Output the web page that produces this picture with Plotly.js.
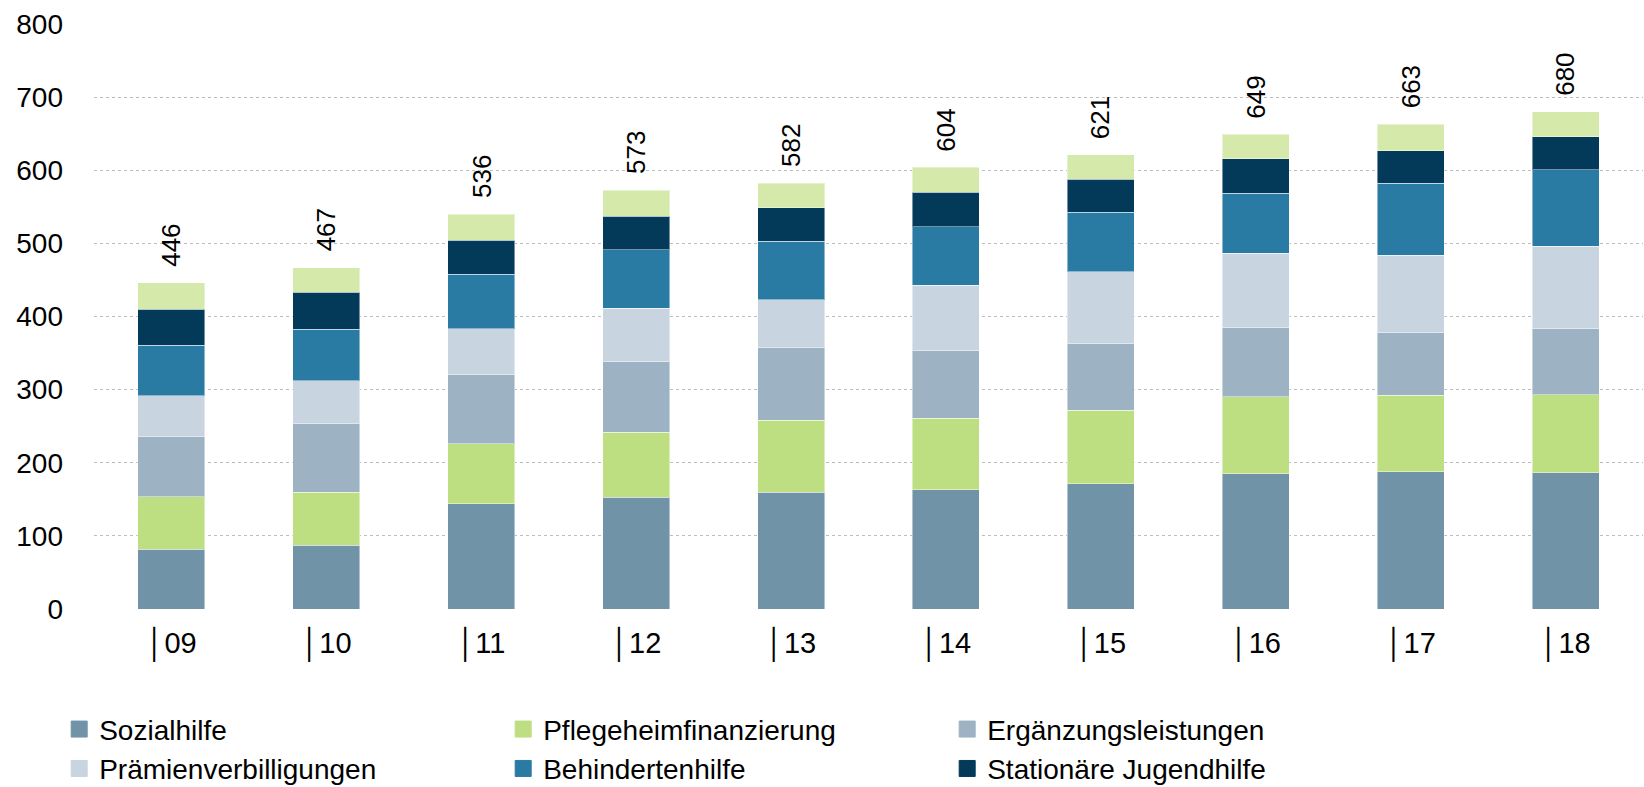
<!DOCTYPE html>
<html><head><meta charset="utf-8">
<script src="https://cdn.plot.ly/plotly-3.0.1.min.js"></script>
<style>html,body{margin:0;padding:0;background:#fff}#chart{width:1644px;height:787px}</style>
</head><body><div id="chart"></div>
<script>
const years = ['09','10','11','12','13','14','15','16','17','18'];
const tickLabels = ['│09','│10','│11','│12','│13','│14','│15','│16','│17','│18'];
const sozialhilfe = [82,87.5,144,153,160,163,171,185,188,186];
const pflegeheim = [71.5,72,82,89,98,98,100.5,105.5,104.5,107];
const ergaenzung = [82,94.5,95,97,100,93,92,95,85,91];
const praemien = [56,58,62.5,72.5,65,89,98,101,106,112];
const behinderten = [69.5,70.5,74.5,80,80,80,81,82,99,105];
const jugendhilfe = [49,50.5,46,45.5,46,47,45,47,44.5,45];
const uebrige = [36,34,36,35.5,33,34,33.5,33.5,36,34];
const totals = [446,467,536,573,582,604,621,649,663,680];

const seriesNames = ['Sozialhilfe','Pflegeheimfinanzierung','Ergänzungsleistungen','Prämienverbilligungen','Behindertenhilfe','Stationäre Jugendhilfe','Übrige'];
const seriesData = [sozialhilfe,pflegeheim,ergaenzung,praemien,behinderten,jugendhilfe,uebrige];
const colors = ['#7193A8','#BEDE82','#9DB3C3','#C8D4E0','#2A7BA3','#033A59','#D4E9AA'];

const FONT = 'Liberation Sans, Arial, Helvetica, sans-serif';
const traces = [];
seriesData.forEach((d,i)=>{
  traces.push({type:'bar', x:years, y:d, name:seriesNames[i], showlegend:false,
    marker:{color:colors[i], line:{color:'rgba(255,255,255,0.45)', width:1}}, hoverinfo:'skip'});
});
for(let i=0;i<6;i++){
  traces.push({type:'scatter', mode:'markers', x:[years[0]], y:[null], name:seriesNames[i], showlegend:true,
    marker:{symbol:'square', size:16, color:colors[i], line:{color:colors[i], width:1}}, hoverinfo:'skip'});
}
const stackTops = years.map((_,j)=>seriesData.reduce((s,arr)=>s+arr[j],0));
const annotations = years.map((y,j)=>({x:j, y:stackTops[j], xref:'x', yref:'y', text:String(totals[j]),
  textangle:-90, showarrow:false, xanchor:'center', yanchor:'bottom', yshift:14,
  font:{family:FONT, size:26, color:'#000'}}));

const layout = {
  width:1644, height:787,
  margin:{l:94, r:1, t:24, b:178},
  paper_bgcolor:'#fff', plot_bgcolor:'#fff',
  barmode:'stack', bargap:0.568,
  font:{family:FONT, color:'#000'},
  xaxis:{type:'category', range:[-0.5,9.5], autorange:false, tickvals:years, ticktext:tickLabels, showgrid:false, zeroline:false, showline:false,
    ticks:'', tickfont:{family:FONT, size:29, color:'#000'}, ticklabelstandoff:14},
  yaxis:{range:[0,800], autorange:false, dtick:100, showgrid:true, gridcolor:'#BDBDBD', griddash:'dot', gridwidth:1,
    zeroline:false, showline:false, ticks:'', tickfont:{family:FONT, size:28, color:'#000'}, ticklabelstandoff:30},
  showlegend:true,
  legend:{orientation:'h', xref:'container', yref:'container', x:0.036, y:0.105, xanchor:'left', yanchor:'top',
    entrywidth:399, entrywidthmode:'pixels', font:{family:FONT, size:28, color:'#000'}, traceorder:'normal',
    bgcolor:'rgba(0,0,0,0)', itemclick:false, itemdoubleclick:false},
  annotations:annotations,
  hovermode:false
};
Plotly.newPlot('chart', traces, layout, {displayModeBar:false, staticPlot:true});
</script></body></html>
